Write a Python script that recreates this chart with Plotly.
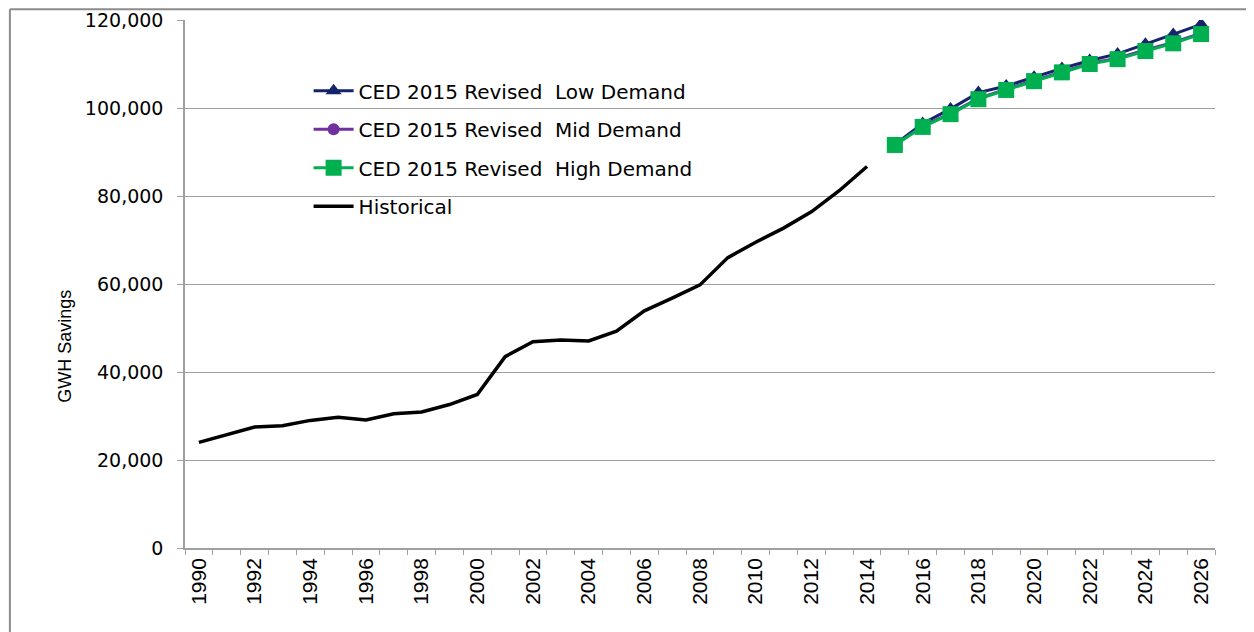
import plotly.graph_objects as go

hist_years = list(range(1990, 2015))
hist_vals = [24000, 25700, 27500, 27800, 29000, 29700, 29100, 30500, 30900, 32600,
             34900, 43500, 46900, 47300, 47050, 49300, 53900, 56800, 59800, 66000,
             69500, 72700, 76400, 81200, 86700]

proj_years = list(range(2015, 2027))
low_vals = [91700, 96500, 99800, 103500, 105000, 107000, 109000, 110800, 112300, 114500, 116700, 119000]
mid_vals = [91600, 95900, 98800, 102200, 104300, 106300, 108300, 110200, 111300, 113200, 114900, 117000]
high_vals = [91600, 95700, 98600, 102000, 104100, 106100, 108100, 110000, 111100, 112950, 114700, 116800]

tick_years = list(range(1990, 2027, 2))
tick_text = [str(y) for y in tick_years]

fig = go.Figure()
fig.add_trace(go.Scatter(x=proj_years, y=low_vals, mode="lines+markers",
                         name="CED 2015 Revised  Low Demand", legendgroup="a",
                         line=dict(color="#14246B", width=3),
                         marker=dict(symbol="triangle-up", size=14, color="#14246B")))
fig.add_trace(go.Scatter(x=proj_years, y=mid_vals, mode="lines+markers",
                         name="CED 2015 Revised  Mid Demand", legendgroup="b",
                         line=dict(color="#7030A0", width=3),
                         marker=dict(symbol="circle", size=12, color="#7030A0")))
fig.add_trace(go.Scatter(x=proj_years, y=high_vals, mode="lines+markers",
                         name="CED 2015 Revised  High Demand", legendgroup="c",
                         line=dict(color="#00B050", width=3),
                         marker=dict(symbol="square", size=16, color="#00B050")))
fig.add_trace(go.Scatter(x=hist_years, y=hist_vals, mode="lines",
                         name="Historical", legendgroup="d",
                         line=dict(color="#000000", width=3.5)))

fig.update_layout(
    width=1246, height=624,
    margin=dict(l=177, r=39, t=12, b=84),
    paper_bgcolor="white", plot_bgcolor="white",
    showlegend=True,
    legend=dict(x=0.12, y=0.903, xanchor="left", yanchor="top",
                bgcolor="rgba(0,0,0,0)", tracegroupgap=9.5,
                font=dict(family="DejaVu Sans", size=20, color="#000000"),
                itemwidth=40),
    xaxis=dict(range=[1989.5, 2026.5], tickvals=tick_years, ticktext=tick_text,
               tickangle=-90, ticks="", showgrid=False, zeroline=False,
               showline=True, linecolor="#A0A0A0", linewidth=1.5, automargin=False,
               tickfont=dict(family="Liberation Sans Narrow, Liberation Sans", size=21, color="#000000"),
               minor=dict(tick0=1989.5, dtick=1, ticks="outside", ticklen=5,
                          tickcolor="#A0A0A0", showgrid=False)),
    yaxis=dict(range=[0, 120000], dtick=20000, tickformat=",", ticks="outside",
               ticklen=6, tickcolor="#A0A0A0", showgrid=True, gridcolor="#A0A0A0",
               gridwidth=1, zeroline=False, showline=True, linecolor="#A0A0A0",
               linewidth=1.5, ticklabelstandoff=10, automargin=False,
               tickfont=dict(family="DejaVu Sans", size=19, color="#000000")),
    annotations=[dict(text="GWH Savings", x=-0.1165, y=0.381, xref="paper", yref="paper",
                      xanchor="center", yanchor="middle",
                      textangle=-90, showarrow=False,
                      font=dict(family="Liberation Sans Narrow, Liberation Sans", size=18, color="#000000"))],
    shapes=[
        dict(type="line", xref="paper", yref="paper", x0=-0.170, x1=-0.170, y0=-0.2, y1=1.0205,
             line=dict(color="#8C8C8C", width=2)),
        dict(type="line", xref="paper", yref="paper", x0=-0.170, x1=1.05, y0=1.0205, y1=1.0205,
             line=dict(color="#8C8C8C", width=2)),
    ],
)

fig.write_html("out.html")
